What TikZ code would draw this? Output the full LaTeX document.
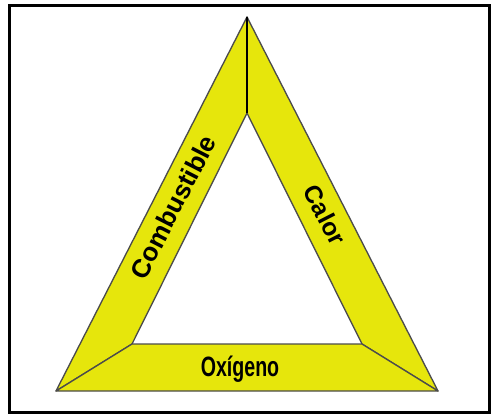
\documentclass[tikz,border=0pt]{standalone}
\usepackage{fontspec}
\setmainfont{Liberation Sans}
\definecolor{fireyellow}{RGB}{230,230,12}

\begin{document}
\begin{tikzpicture}[x=0.75pt, y=-0.75pt,
    band/.style={fill=fireyellow, draw=black!70, line width=1pt, line join=round},
    lbl/.style={font=\bfseries\fontsize{19.5}{21}\selectfont, inner sep=0pt}]
  \useasboundingbox (0,0) rectangle (491,415);
  \draw[line width=2.25pt] (9.5,5.5) rectangle (489.5,412.5);
  % outer and inner corners
  \coordinate (top) at (247,17);
  \coordinate (bl) at (56,391);
  \coordinate (br) at (438,391);
  \coordinate (itop) at (247,113);
  \coordinate (ibl) at (132,344);
  \coordinate (ibr) at (362,344);
  % the three sides
  \draw[band] (bl) -- (top) -- (itop) -- (ibl) -- cycle;
  \draw[band] (top) -- (br) -- (ibr) -- (itop) -- cycle;
  \draw[band] (bl) -- (ibl) -- (ibr) -- (br) -- cycle;
  \draw[line width=1.2pt] (top) -- (itop);
  \node[lbl, rotate=62.9] (fuel) at (173,207) {Combustible};
  \node[lbl, rotate=-62.9, font=\bfseries\fontsize{18.5}{20}\selectfont] (heat) at (325,215) {Calor};
  \node[lbl, xscale=0.7, font=\bfseries\fontsize{21}{23}\selectfont] (oxygen) at (240,369) {Oxígeno};
\end{tikzpicture}
\end{document}
